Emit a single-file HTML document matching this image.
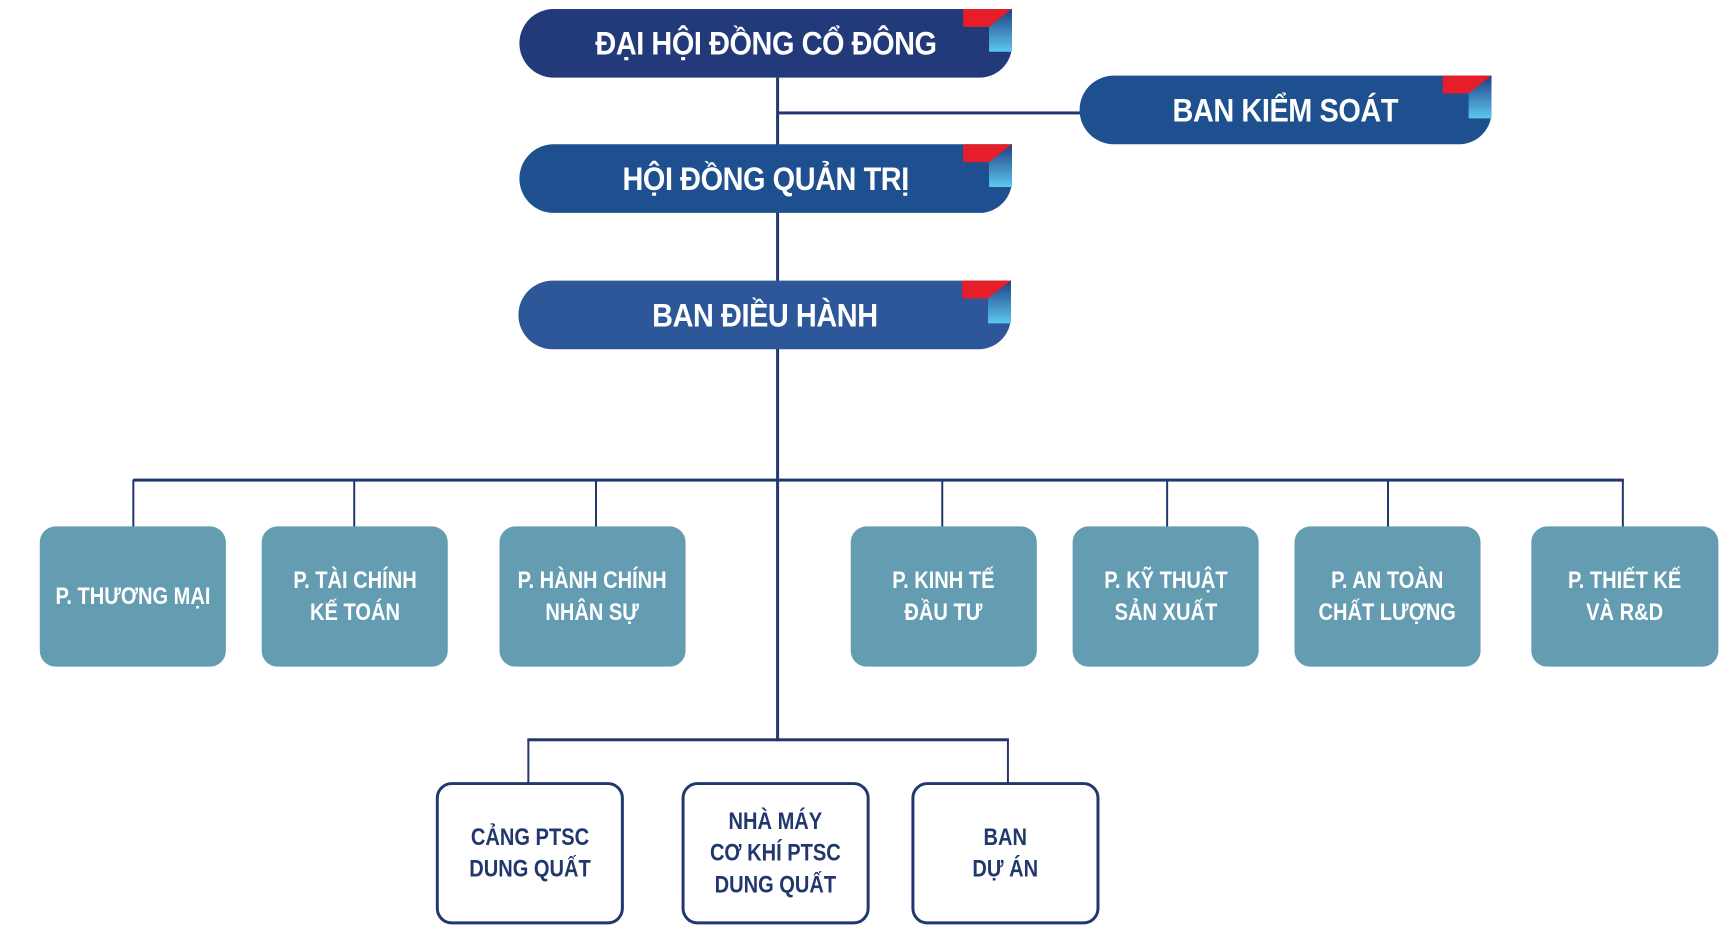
<!DOCTYPE html>
<html><head><meta charset="utf-8"><style>
body{margin:0;width:1730px;height:935px;background:#fff;position:relative;overflow:hidden;font-family:"Liberation Sans",sans-serif}
#w{position:absolute;left:0;top:0;width:1730px;height:935px;transform:scale(0.995,0.995);transform-origin:0 0}
.l{position:absolute;background:#23376f}
.b{position:absolute;color:#fff;font-weight:bold;display:flex;align-items:center;justify-content:center;text-align:center}
.top{border-radius:36px 0 34px 36px;font-size:33px;letter-spacing:-0.5px}
.top span{display:inline-block;transform:scaleX(0.88)}
.c{position:absolute}
.t{background:#649db1;border-radius:16px;font-size:24px;line-height:32px}
.t span,.w span{display:inline-block;transform:scaleX(0.84)}
.w{background:#fff;border:3px solid #23376f;border-radius:16px;color:#23376f;font-size:24px;line-height:32px;box-sizing:border-box}
</style></head><body><div id="w">
<div class="l" style="left:780px;top:78px;width:3px;height:667px"></div>
<div class="l" style="left:781px;top:112px;width:305px;height:3px"></div>
<div class="l" style="left:134px;top:481px;width:1498px;height:3px"></div>
<div class="l" style="left:133px;top:482px;width:2px;height:48px"></div>
<div class="l" style="left:355px;top:482px;width:2px;height:48px"></div>
<div class="l" style="left:598px;top:482px;width:2px;height:48px"></div>
<div class="l" style="left:946px;top:482px;width:2px;height:48px"></div>
<div class="l" style="left:1172px;top:482px;width:2px;height:48px"></div>
<div class="l" style="left:1394px;top:482px;width:2px;height:48px"></div>
<div class="l" style="left:1630px;top:482px;width:2px;height:48px"></div>
<div class="l" style="left:530px;top:742px;width:484px;height:3px"></div>
<div class="l" style="left:530px;top:743px;width:2px;height:44px"></div>
<div class="l" style="left:1012px;top:743px;width:2px;height:44px"></div>

<div class="b top" style="left:522px;top:9px;width:495px;height:69px;background:#233a7a"><span>ĐẠI HỘI ĐỒNG CỔ ĐÔNG</span></div>
<div class="b top" style="left:1085px;top:76px;width:414px;height:69px;background:#1e4f8f"><span>BAN KIỂM SOÁT</span></div>
<div class="b top" style="left:522px;top:145px;width:495px;height:69px;background:#1e4f8f"><span>HỘI ĐỒNG QUẢN TRỊ</span></div>
<div class="b top" style="left:521px;top:282px;width:495px;height:69px;background:#2d5799"><span>BAN ĐIỀU HÀNH</span></div>

<svg class="c" style="left:0;top:0" width="1730" height="935">
<defs><linearGradient id="g" x1="0" y1="0" x2="0" y2="1"><stop offset="0" stop-color="#1f3f85"/><stop offset="1" stop-color="#5cc8f0"/></linearGradient></defs>
<g id="k"><polygon points="968,9 1017,9 994,27 968,27" fill="#e61e2a"/><polygon points="994,27 1017,9 1017,52 994,52" fill="url(#g)"/></g>
<use href="#k" x="0" y="136"/>
<use href="#k" x="-1" y="273"/>
<use href="#k" x="482" y="67"/>
</svg>

<div class="b t" style="left:40px;top:529px;width:187px;height:141px"><span>P. THƯƠNG MẠI</span></div>
<div class="b t" style="left:263px;top:529px;width:187px;height:141px"><span>P. TÀI CHÍNH<br>KẾ TOÁN</span></div>
<div class="b t" style="left:502px;top:529px;width:187px;height:141px"><span>P. HÀNH CHÍNH<br>NHÂN SỰ</span></div>
<div class="b t" style="left:855px;top:529px;width:187px;height:141px"><span>P. KINH TẾ<br>ĐẦU TƯ</span></div>
<div class="b t" style="left:1078px;top:529px;width:187px;height:141px"><span>P. KỸ THUẬT<br>SẢN XUẤT</span></div>
<div class="b t" style="left:1301px;top:529px;width:187px;height:141px"><span>P. AN TOÀN<br>CHẤT LƯỢNG</span></div>
<div class="b t" style="left:1539px;top:529px;width:188px;height:141px"><span>P. THIẾT KẾ<br>VÀ R&amp;D</span></div>

<div class="b w" style="left:438px;top:786px;width:189px;height:143px"><span>CẢNG PTSC<br>DUNG QUẤT</span></div>
<div class="b w" style="left:685px;top:786px;width:189px;height:143px"><span>NHÀ MÁY<br>CƠ KHÍ PTSC<br>DUNG QUẤT</span></div>
<div class="b w" style="left:916px;top:786px;width:189px;height:143px"><span>BAN<br>DỰ ÁN</span></div>
</div></body></html>
